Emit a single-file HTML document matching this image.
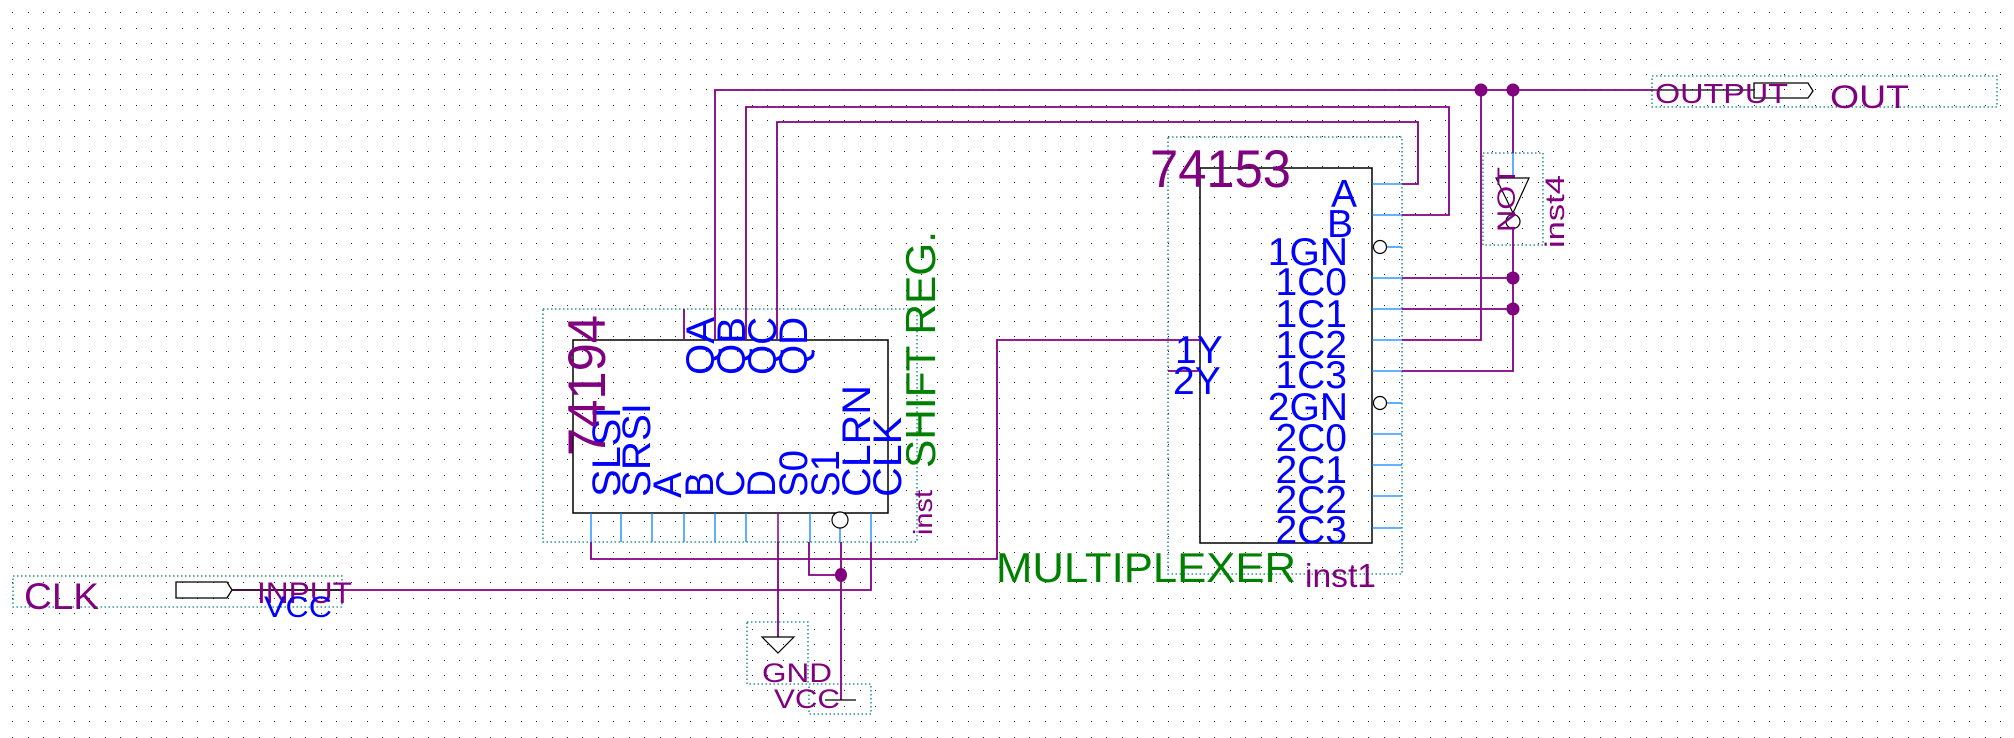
<!DOCTYPE html>
<html><head><meta charset="utf-8"><style>
html,body{margin:0;padding:0;background:#fff}
svg{display:block}
text{font-family:"Liberation Sans",sans-serif}
</style></head><body>
<svg width="2014" height="738" xmlns="http://www.w3.org/2000/svg">
<rect width="2014" height="738" fill="#fff"/>
<path id="dots" d="" stroke="none" fill="#222"/>

<!-- dashed bounding boxes -->
<g fill="none" stroke="#008080" stroke-width="1.3" stroke-dasharray="1.5,2.5">
<rect x="543" y="309" width="374" height="233"/>
<rect x="1168" y="137" width="234" height="437"/>
<rect x="1483" y="153" width="60" height="92"/>
<rect x="1652" y="76" width="345" height="31"/>
<rect x="13" y="576" width="329" height="31"/>
<rect x="747" y="622" width="61" height="62"/>
<rect x="809" y="684" width="62" height="30"/>
</g>

<!-- wires -->
<g fill="none" stroke="#800080" stroke-width="1.8">
<polyline points="715,339 715,90 1653,90"/>
<polyline points="746,339 746,107 1449,107 1449,215 1402,215"/>
<polyline points="777,339 777,122 1418,122 1418,184 1402,184"/>
<line x1="684" y1="309" x2="684" y2="339"/>
<polyline points="1481,90 1481,340 1402,340"/>
<line x1="1513" y1="90" x2="1513" y2="153"/>
<polyline points="1513,229 1513,371 1402,371"/>
<line x1="1402" y1="278" x2="1513" y2="278"/>
<line x1="1402" y1="309" x2="1513" y2="309"/>
<polyline points="1168,340 997,340 997,559 591,559 591,542"/>
<line x1="1168" y1="371" x2="1198" y2="371"/>
<polyline points="809,542 809,575 841,575"/>
<line x1="841" y1="542" x2="841" y2="700"/>
<line x1="778" y1="542" x2="778" y2="637"/>
<polyline points="232,590 871,590 871,542"/>
</g>
<g fill="#800080">
<circle cx="1481" cy="90" r="6.5"/><circle cx="1513" cy="90" r="6.5"/>
<circle cx="1513" cy="278" r="6.5"/><circle cx="1513" cy="309" r="6.5"/>
<ellipse cx="841" cy="575" rx="6" ry="7"/>
</g>

<!-- 74194 -->
<rect x="573" y="340" width="315" height="173" fill="none" stroke="#000" stroke-width="1.5"/>
<g stroke="#0a84ff" stroke-width="1.3">
<line x1="591" y1="513" x2="591" y2="542"/><line x1="621" y1="513" x2="621" y2="542"/>
<line x1="652" y1="513" x2="652" y2="542"/><line x1="684" y1="513" x2="684" y2="542"/>
<line x1="715" y1="513" x2="715" y2="542"/><line x1="746" y1="513" x2="746" y2="542"/>
<line x1="810" y1="513" x2="810" y2="542"/>
<line x1="840" y1="528" x2="840" y2="542"/><line x1="871" y1="513" x2="871" y2="542"/>
</g>
<line x1="778" y1="513" x2="778" y2="542" stroke="#800080" stroke-width="1.5"/>
<circle cx="840" cy="520" r="8" fill="#fff" stroke="#000" stroke-width="1.2"/>
<g fill="#0000ff" font-size="40">
<text transform="translate(620,497) rotate(-90)" textLength="90" lengthAdjust="spacingAndGlyphs">SLSI</text>
<text transform="translate(650,497) rotate(-90)" textLength="94" lengthAdjust="spacingAndGlyphs">SRSI</text>
<text transform="translate(681,498) rotate(-90)" textLength="26" lengthAdjust="spacingAndGlyphs">A</text>
<text transform="translate(713,497) rotate(-90)" textLength="25" lengthAdjust="spacingAndGlyphs">B</text>
<text transform="translate(744,497) rotate(-90)" textLength="27" lengthAdjust="spacingAndGlyphs">C</text>
<text transform="translate(775,497) rotate(-90)" textLength="27" lengthAdjust="spacingAndGlyphs">D</text>
<text transform="translate(807,497) rotate(-90)" textLength="47" lengthAdjust="spacingAndGlyphs">S0</text>
<text transform="translate(839,497) rotate(-90)" textLength="47" lengthAdjust="spacingAndGlyphs">S1</text>
<text transform="translate(870,497) rotate(-90)" textLength="112" lengthAdjust="spacingAndGlyphs">CLRN</text>
<text transform="translate(901,497) rotate(-90)" textLength="80" lengthAdjust="spacingAndGlyphs">CLK</text>
<text transform="translate(714,375) rotate(-90)" textLength="58" lengthAdjust="spacingAndGlyphs">QA</text>
<text transform="translate(745,375) rotate(-90)" textLength="58" lengthAdjust="spacingAndGlyphs">QB</text>
<text transform="translate(776,375) rotate(-90)" textLength="58" lengthAdjust="spacingAndGlyphs">QC</text>
<text transform="translate(807,375) rotate(-90)" textLength="58" lengthAdjust="spacingAndGlyphs">QD</text>
</g>
<text transform="translate(605,456) rotate(-90)" fill="#800080" font-size="53" textLength="141" lengthAdjust="spacingAndGlyphs">74194</text>
<text transform="translate(935,468) rotate(-90)" fill="#008000" font-size="42" textLength="237" lengthAdjust="spacingAndGlyphs">SHIFT REG.</text>
<text transform="translate(932,535) rotate(-90)" fill="#800080" font-size="26" textLength="45" lengthAdjust="spacingAndGlyphs">inst</text>

<!-- 74153 -->
<rect x="1200" y="168" width="172" height="375" fill="none" stroke="#000" stroke-width="1.5"/>
<g stroke="#0a84ff" stroke-width="1.3">
<line x1="1372" y1="184" x2="1402" y2="184"/><line x1="1372" y1="215" x2="1402" y2="215"/>
<line x1="1386" y1="247" x2="1402" y2="247"/><line x1="1372" y1="278" x2="1402" y2="278"/>
<line x1="1372" y1="309" x2="1402" y2="309"/><line x1="1372" y1="340" x2="1402" y2="340"/>
<line x1="1372" y1="371" x2="1402" y2="371"/><line x1="1386" y1="403" x2="1402" y2="403"/>
<line x1="1372" y1="434" x2="1402" y2="434"/><line x1="1372" y1="465" x2="1402" y2="465"/>
<line x1="1372" y1="496" x2="1402" y2="496"/><line x1="1372" y1="528" x2="1402" y2="528"/>
</g>
<line x1="1168" y1="340" x2="1200" y2="340" stroke="#800080" stroke-width="1.8"/>
<circle cx="1380" cy="247" r="6.5" fill="#fff" stroke="#000" stroke-width="1.2"/>
<circle cx="1380" cy="403" r="6.5" fill="#fff" stroke="#000" stroke-width="1.2"/>
<g fill="#0000ff" font-size="39" text-anchor="end">
<text x="1357" y="207">A</text><text x="1353" y="237">B</text>
<text x="1348" y="265">1GN</text><text x="1347" y="295">1C0</text>
<text x="1347" y="327">1C1</text><text x="1347" y="358">1C2</text>
<text x="1347" y="388">1C3</text><text x="1348" y="420">2GN</text>
<text x="1347" y="451">2C0</text><text x="1347" y="483">2C1</text>
<text x="1347" y="513">2C2</text><text x="1347" y="543">2C3</text>
</g>
<g fill="#0000ff" font-size="39">
<text x="1175" y="363">1Y</text><text x="1173" y="394">2Y</text>
</g>
<text x="1150" y="187" fill="#800080" font-size="53" textLength="141" lengthAdjust="spacingAndGlyphs">74153</text>
<text x="996" y="582" fill="#008000" font-size="42" textLength="300" lengthAdjust="spacingAndGlyphs">MULTIPLEXER</text>
<text x="1305" y="587" fill="#800080" font-size="33" textLength="71" lengthAdjust="spacingAndGlyphs">inst1</text>

<!-- NOT -->
<line x1="1513" y1="153" x2="1513" y2="178" stroke="#0a84ff" stroke-width="1.3"/>
<polygon points="1496,178 1529,178 1513,213" fill="none" stroke="#000" stroke-width="1.2"/>
<circle cx="1513" cy="221.5" r="7" fill="none" stroke="#000" stroke-width="1.2"/>
<text transform="translate(1515,232) rotate(-90)" fill="#800080" font-size="25" textLength="65" lengthAdjust="spacingAndGlyphs">NOT</text>
<text transform="translate(1564,248) rotate(-90)" fill="#800080" font-size="27" textLength="73" lengthAdjust="spacingAndGlyphs">inst4</text>

<!-- OUTPUT -->
<line x1="1653" y1="90" x2="1754" y2="90" stroke="#000" stroke-width="1.3"/>
<polygon points="1754,83 1808,83 1813,91 1808,98 1754,98" fill="none" stroke="#000" stroke-width="1.3"/>
<text x="1655" y="103" fill="#800080" font-size="28" textLength="133" lengthAdjust="spacingAndGlyphs">OUTPUT</text>
<text x="1830" y="108" fill="#800080" font-size="32" textLength="79" lengthAdjust="spacingAndGlyphs">OUT</text>

<!-- INPUT -->
<polygon points="176,582 227,582 232,590 227,598 176,598" fill="none" stroke="#000" stroke-width="1.3"/>
<line x1="232" y1="590" x2="342" y2="590" stroke="#000" stroke-width="1.3"/>
<text x="24" y="609" fill="#800080" font-size="37" textLength="75" lengthAdjust="spacingAndGlyphs">CLK</text>
<text x="257" y="603" fill="#800080" font-size="30" textLength="95" lengthAdjust="spacingAndGlyphs">INPUT</text>
<text x="264" y="617" fill="#0000ff" font-size="30" textLength="68" lengthAdjust="spacingAndGlyphs">VCC</text>

<!-- GND -->
<polygon points="762,637 794,637 778,653" fill="none" stroke="#000" stroke-width="1.2"/>
<text x="762" y="682" fill="#800080" font-size="27" textLength="70" lengthAdjust="spacingAndGlyphs">GND</text>
<!-- VCC -->
<line x1="825" y1="700" x2="856" y2="700" stroke="#000" stroke-width="1.3"/>
<text x="774" y="708" fill="#800080" font-size="27" textLength="66" lengthAdjust="spacingAndGlyphs">VCC</text>
</svg>
<script>
(function(){var d=[];for(var y=12.3;y<738;y+=15.41){for(var x=12.3;x<2014;x+=15.41){d.push('M'+Math.round(x)+' '+Math.round(y)+'h1v1h-1z');}}document.getElementById('dots').setAttribute('d',d.join(''));})();
</script>
</body></html>
